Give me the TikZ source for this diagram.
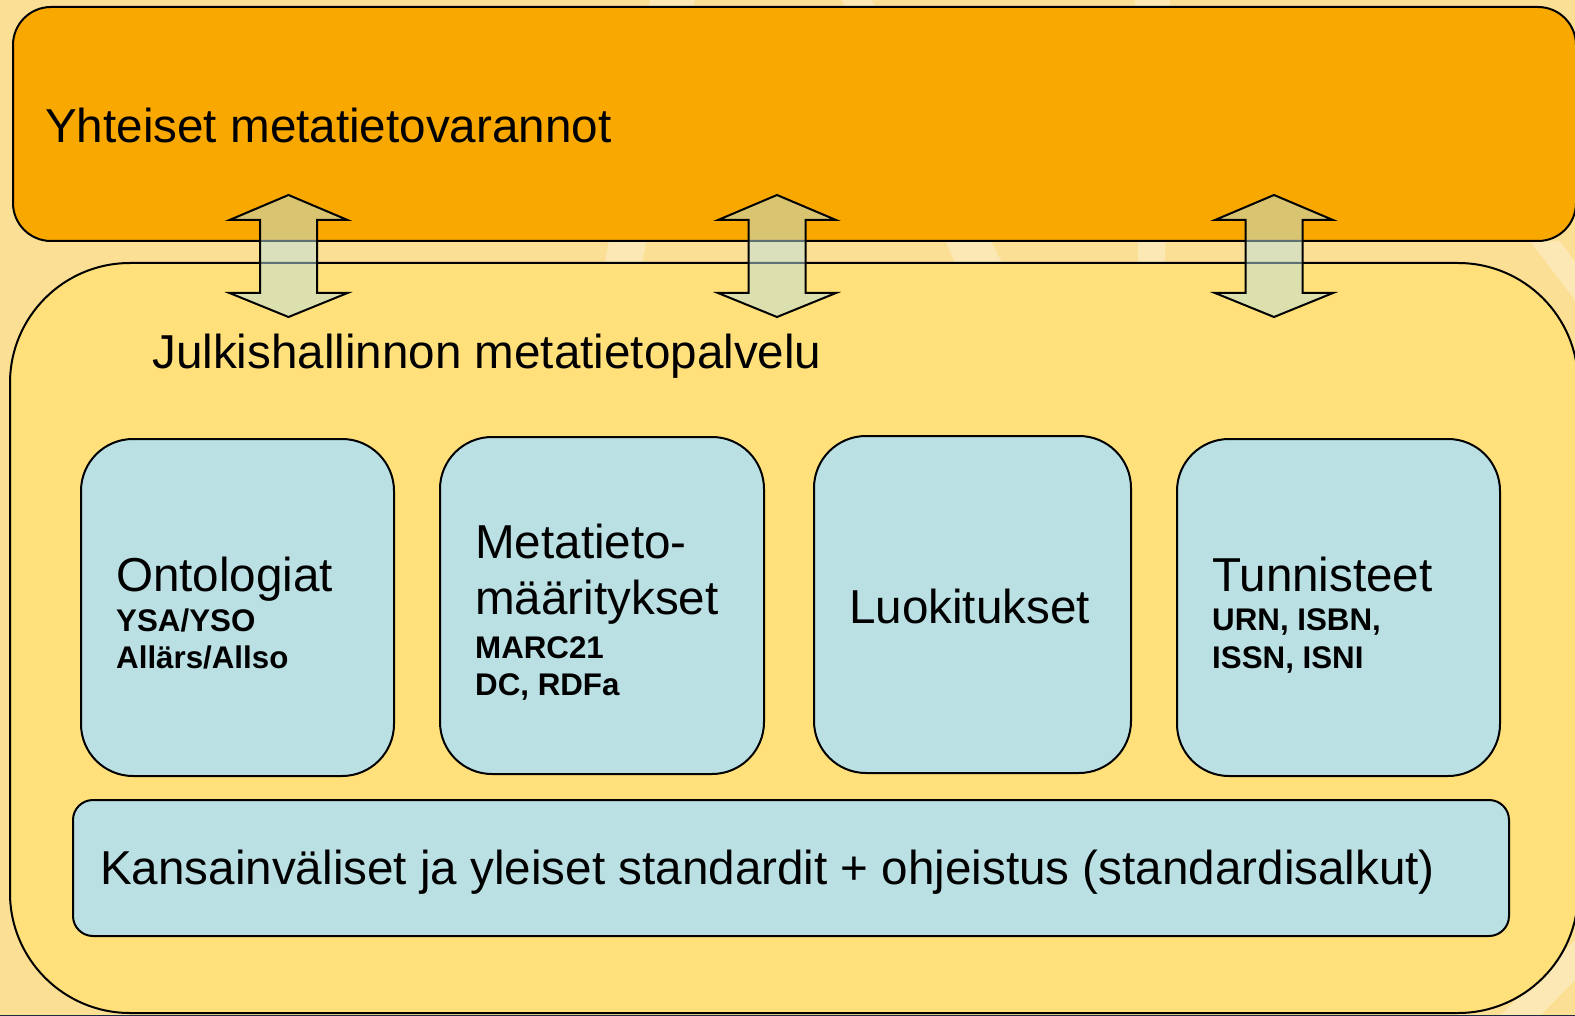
\documentclass[tikz,border=0pt]{standalone}
\usepackage{fontspec}
\setmainfont{Liberation Sans}
\definecolor{bgyellow}{HTML}{FBDF95}
\definecolor{boxorange}{HTML}{F9A800}
\definecolor{boxyellow}{HTML}{FFE07A}
\definecolor{boxblue}{HTML}{BAE0E4}
\definecolor{edgedark}{HTML}{1F2A44}
\tikzset{
  outline/.style={draw=black, line width=2pt},
  panel/.style={outline, fill=boxblue, rounded corners=52pt, inner sep=0pt},
  bigtext/.style={font=\fontsize{47.6}{57}\selectfont, inner sep=0pt, anchor=base west},
  smalltext/.style={font=\fontsize{31.3}{37}\selectfont\bfseries, inner sep=0pt, anchor=base west},
  dblarrow/.style={outline, fill=boxblue, fill opacity=0.5, draw opacity=1, line join=miter},
  ray/.style={fill=white, fill opacity=0.3},
}
\begin{document}
\begin{tikzpicture}[x=1pt,y=-1pt]
\useasboundingbox (0,0) rectangle (1575,1016);
\fill[bgyellow] (0,0) rectangle (1575,1016);
% faint background rays
\fill[ray] (650,0) -- (695,0) -- (642,263) -- (605,263) -- cycle;
\fill[ray] (842,0) -- (872,0) -- (1002,263) -- (955,263) -- cycle;
\fill[ray] (1135,0) -- (1170,0) -- (1165,263) -- (1138,263) -- cycle;
\fill[ray] (1530,241) -- (1560,241) -- (1575,262) -- (1575,300) -- cycle;
\fill[ray] (1500,1016) -- (1575,940) -- (1575,980) -- (1540,1016) -- cycle;
\fill[edgedark] (0,1014.5) rectangle (1575,1016);
% main containers
\node[outline, fill=boxorange, rounded corners=38pt, minimum width=1563pt, minimum height=234pt, inner sep=0pt] (yht) at (794.5,124) {};
\node[outline, fill=boxyellow, rounded corners=120pt, minimum width=1568pt, minimum height=750pt, inner sep=0pt] (jul) at (794,638) {};
% inner panels
\node[panel, minimum width=313pt, minimum height=337pt] (ont) at (237.5,607.5) {};
\node[panel, minimum width=324pt, minimum height=337pt] (met) at (602,605.5) {};
\node[panel, minimum width=317pt, minimum height=337pt] (luo) at (972.5,604.5) {};
\node[panel, minimum width=323pt, minimum height=337pt] (tun) at (1338.5,607.5) {};
\node[panel, rounded corners=20pt, minimum width=1436pt, minimum height=136pt] (kan) at (791,868) {};
% arrows
\foreach \cx in {288.5,777,1274}{
  \draw[dblarrow] (\cx,195) -- ({\cx+59},220) -- ({\cx+28.5},220) -- ({\cx+28.5},293) -- ({\cx+59},293)
    -- (\cx,317) -- ({\cx-59},293) -- ({\cx-28.5},293) -- ({\cx-28.5},220) -- ({\cx-59},220) -- cycle;
}
% texts
\node[bigtext] (tyht) at (45,143) {Yhteiset metatietovarannot};
\node[bigtext] (tjul) at (152,369) {Julkishallinnon metatietopalvelu};
\node[bigtext] (tont) at (116,591) {Ontologiat};
\node[smalltext] (tonta) at (116,631) {YSA/YSO};
\node[smalltext] (tontb) at (116,668) {Allärs/Allso};
\node[bigtext] (tmeta) at (475,558) {Metatieto-};
\node[bigtext] (tmetb) at (475,614) {määritykset};
\node[smalltext] (tmetc) at (475,658) {MARC21};
\node[smalltext] (tmetd) at (475,695) {DC, RDFa};
\node[bigtext] (tluo) at (849,623) {Luokitukset};
\node[bigtext] (ttun) at (1212,591) {Tunnisteet};
\node[smalltext] (ttuna) at (1212,630) {URN, ISBN,};
\node[smalltext] (ttunb) at (1212,668) {ISSN, ISNI};
\node[bigtext] (tkan) at (100,884) {Kansainväliset ja yleiset standardit + ohjeistus (standardisalkut)};
\end{tikzpicture}
\end{document}
